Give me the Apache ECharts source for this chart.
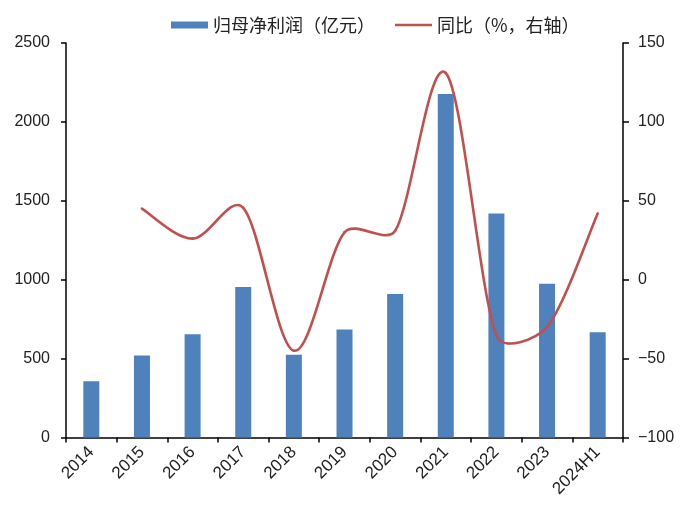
<!DOCTYPE html>
<html>
<head>
<meta charset="utf-8">
<script src="https://cdn.jsdelivr.net/npm/echarts@6/dist/echarts.min.js"></script>
<style>
html,body{margin:0;padding:0;background:#fff;}
#c{width:690px;height:505px;}
</style>
</head>
<body>
<div id="c"></div>
<script>
// ---- data ----
const categories = ['2014', '2015', '2016', '2017', '2018', '2019', '2020', '2021', '2022', '2023', '2024H1'];
const netProfit = [356, 519, 654, 953, 525, 685, 910, 2177, 1419, 975, 667];
const yoyPct = [null, 45, 26, 45.5, -45, 30, 31, 131, -35.5, -30, 42];
const leftTicks = [0, 500, 1000, 1500, 2000, 2500];
const rightTicks = [-100, -50, 0, 50, 100, 150];
const barName = '归母净利润（亿元）';
const lineName = '同比（%，右轴）';

// ---- build ----
const yoyData = categories
  .map((c, i) => [i, yoyPct[i]])
  .filter(d => d[1] !== null);

function dist(a, b) { return Math.hypot(b[0] - a[0], b[1] - a[1]); }
function capArm(v, maxLen) {
  const l = Math.hypot(v[0], v[1]);
  if (l > maxLen && l > 0) { return [v[0] * maxLen / l, v[1] * maxLen / l]; }
  return v;
}

function renderYoy(params, api) {
  const idx = params.dataIndex;
  const pts = yoyData.map(d => api.coord(d));
  if (idx >= pts.length - 1) return null;
  const p0 = pts[Math.max(idx - 1, 0)];
  const p1 = pts[idx];
  const p2 = pts[idx + 1];
  const p3 = pts[Math.min(idx + 2, pts.length - 1)];
  const seg = dist(p1, p2);
  const a1 = capArm([(p2[0] - p0[0]) / 6, (p2[1] - p0[1]) / 6], seg / 3);
  const a2 = capArm([(p3[0] - p1[0]) / 6, (p3[1] - p1[1]) / 6], seg / 3);
  return {
    type: 'bezierCurve',
    shape: {
      x1: p1[0], y1: p1[1],
      x2: p2[0], y2: p2[1],
      cpx1: p1[0] + a1[0], cpy1: p1[1] + a1[1],
      cpx2: p2[0] - a2[0], cpy2: p2[1] - a2[1]
    },
    style: { stroke: '#C0504D', lineWidth: 2.6, fill: null, lineCap: 'round', lineJoin: 'round' }
  };
}

const labelFont = 'Liberation Sans, Arial, sans-serif';
const axisColor = '#000';

const chart = echarts.init(document.getElementById('c'), null, { renderer: 'canvas' });
chart.setOption({
  animation: false,
  backgroundColor: '#fff',
  legend: {
    left: 166,
    top: 11,
    itemWidth: 37,
    itemHeight: 7,
    itemGap: 20,
    textStyle: { fontSize: 18, color: '#222', fontFamily: 'Noto Sans CJK SC', padding: [0, 0, 0, 0] },
    data: [
      { name: barName, icon: 'rect' },
      { name: lineName, icon: 'path://M0 0H37V2.6H0Z' }
    ]
  },
  grid: { left: 66, right: 67, top: 43, bottom: 67.5, containLabel: false },
  xAxis: {
    type: 'category',
    data: categories,
    boundaryGap: true,
    axisLine: { show: true, lineStyle: { color: axisColor, width: 1.5 } },
    axisTick: { show: true, length: 5, lineStyle: { color: axisColor, width: 1.5 } },
    axisLabel: { rotate: 45, fontSize: 17, color: '#222', margin: 12, fontFamily: labelFont, interval: 0 },
    splitLine: { show: false }
  },
  yAxis: [
    {
      type: 'value',
      min: leftTicks[0], max: leftTicks[leftTicks.length - 1],
      interval: leftTicks[1] - leftTicks[0],
      axisLine: { show: true, lineStyle: { color: axisColor, width: 1.5 } },
      axisTick: { show: true, length: 5, lineStyle: { color: axisColor, width: 1.5 } },
      axisLabel: { fontSize: 16, color: '#222', margin: 16, fontFamily: labelFont, formatter: v => String(v) },
      splitLine: { show: false }
    },
    {
      type: 'value',
      position: 'right',
      min: rightTicks[0], max: rightTicks[rightTicks.length - 1],
      interval: rightTicks[1] - rightTicks[0],
      axisLine: { show: true, lineStyle: { color: axisColor, width: 1.5 } },
      axisTick: { show: true, length: 6, lineStyle: { color: axisColor, width: 1.5 } },
      axisLabel: {
        fontSize: 16, color: '#222', margin: 15, fontFamily: labelFont,
        formatter: v => String(v).replace('-', '\u2212')
      },
      splitLine: { show: false }
    }
  ],
  series: [
    {
      name: barName,
      type: 'bar',
      data: netProfit,
      barWidth: 16,
      itemStyle: { color: '#4F81BD' },
      z: 2
    },
    {
      name: lineName,
      type: 'custom',
      yAxisIndex: 1,
      data: yoyData,
      encode: { x: 0, y: 1 },
      renderItem: renderYoy,
      itemStyle: { color: '#C0504D' },
      z: 5
    }
  ]
});
</script>
</body>
</html>
